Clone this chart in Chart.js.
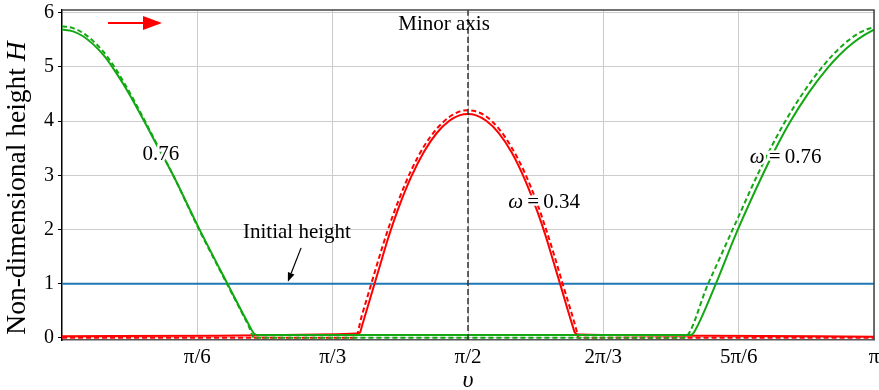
<!DOCTYPE html>
<html>
<head>
<meta charset="utf-8">
<script src="https://cdn.jsdelivr.net/npm/chart.js@4.4.0/dist/chart.umd.min.js"></script>
<style>
  html, body { margin: 0; padding: 0; background: #fff; }
</style>
</head>
<body>
<canvas id="hoehenChart" width="879" height="390"></canvas>
<script>
// Achsenbeschriftungen: x in Vielfachen von pi/6, y ganzzahlig
const tickSteps = [1, 2, 3, 4, 5, 6];
const tickLabels = ['π/6', 'π/3', 'π/2', '2π/3', '5π/6', 'π'];
const yTicks = [0, 1, 2, 3, 4, 5, 6];
const yMin = -0.04;
const yMax = 6.05;

// omega = 0.76, durchgezogene Linie (grün)
const green76X = [0, 0.04, 0.08, 0.12, 0.16, 0.20, 0.24, 0.28, 0.32, 0.36, 0.43, 0.53, 0.64, 0.72, 0.745, 0.76, 1.20, 1.80, 2.43, 2.44, 2.45, 2.47, 2.53, 2.615, 2.71, 2.765, 2.815, 2.89, 2.96, 3.01, 3.06, 3.105, 3.1416];
const green76Y = [5.69, 5.66, 5.57, 5.42, 5.22, 4.96, 4.66, 4.33, 3.98, 3.62, 3.00, 2.02, 1.00, 0.27, 0.07, 0.05, 0.05, 0.05, 0.05, 0.07, 0.14, 0.33, 1.00, 2.00, 3.00, 3.53, 3.97, 4.53, 4.97, 5.23, 5.44, 5.59, 5.69];

// omega = 0.76, gestrichelte Linie (grün)
const green76DashX = [0, 0.04, 0.08, 0.12, 0.16, 0.20, 0.24, 0.28, 0.32, 0.36, 0.43, 0.53, 0.64, 0.72, 0.745, 1.20, 1.80, 2.405, 2.50, 2.595, 2.69, 2.745, 2.795, 2.87, 2.94, 2.99, 3.04, 3.09, 3.1416];
const green76DashY = [5.75, 5.72, 5.63, 5.48, 5.28, 5.02, 4.71, 4.37, 4.01, 3.64, 3.00, 2.00, 0.98, 0.24, 0.00, 0.00, 0.00, 0.00, 1.00, 2.00, 3.00, 3.53, 3.97, 4.54, 4.99, 5.26, 5.48, 5.64, 5.74];

// omega = 0.34, durchgezogene Linie (rot)
const red34X = [0, 0.6, 1.0, 1.14, 1.153, 1.16, 1.20, 1.238, 1.26, 1.30, 1.35, 1.40, 1.45, 1.50, 1.54, 1.571, 1.60, 1.64, 1.69, 1.74, 1.79, 1.84, 1.87, 1.891, 1.93, 1.975, 1.985, 2.0, 2.5, 3.1416];
const red34Y = [0.03, 0.04, 0.06, 0.08, 0.10, 0.21, 0.85, 1.46, 1.81, 2.37, 2.96, 3.43, 3.78, 4.01, 4.11, 4.13, 4.11, 4.01, 3.78, 3.42, 2.93, 2.32, 1.90, 1.57, 0.95, 0.23, 0.09, 0.06, 0.04, 0.02];

// omega = 0.34, gestrichelte Linie (rot)
const red34DashX = [0, 1.0, 1.135, 1.16, 1.18, 1.223, 1.26, 1.30, 1.35, 1.40, 1.45, 1.50, 1.54, 1.571, 1.60, 1.64, 1.69, 1.74, 1.79, 1.84, 1.875, 1.904, 1.94, 1.99, 1.998, 2.5, 3.1416];
const red34DashY = [0.00, 0.00, 0.00, 0.41, 0.73, 1.42, 1.98, 2.51, 3.08, 3.53, 3.86, 4.08, 4.18, 4.20, 4.18, 4.09, 3.86, 3.51, 3.05, 2.46, 1.97, 1.53, 0.95, 0.15, 0.00, 0.00, 0.00];

// Anfangshöhe und kleine Halbachse
const initialX = [0, 3.1416];
const initialY = [1, 1];
const minorAxisX = [Math.PI / 2, Math.PI / 2];
const minorAxisY = [yMin, yMax];

const serif = "'Liberation Serif', 'Times New Roman', serif";

// Hilfsfunktion: x- und y-Arrays zu Punkten
function toPoints(xs, ys) {
    return xs.map((x, i) => ({ x: x, y: ys[i] }));
}

function lineSet(xs, ys, color, dash, width) {
    return {
        data: toPoints(xs, ys),
        showLine: true,
        borderColor: color,
        borderWidth: width,
        borderDash: dash,
        pointRadius: 0,
        fill: false,
        cubicInterpolationMode: 'monotone'
    };
}

// Text aus Teilen (kursiv / normal) zentriert zeichnen, optional mit weißem Rand
function drawParts(ctx, parts, cx, cy, size, halo) {
    ctx.textBaseline = 'middle';
    ctx.textAlign = 'left';
    let total = 0;
    parts.forEach(p => {
        ctx.font = (p.italic ? 'italic ' : '') + size + 'px ' + serif;
        p.w = ctx.measureText(p.text).width;
        total += p.w;
    });
    let x = cx - total / 2;
    parts.forEach(p => {
        ctx.font = (p.italic ? 'italic ' : '') + size + 'px ' + serif;
        if (halo) {
            ctx.strokeStyle = '#fff';
            ctx.lineWidth = 5;
            ctx.lineJoin = 'round';
            ctx.strokeText(p.text, x, cy);
        }
        ctx.fillStyle = '#000';
        ctx.fillText(p.text, x, cy);
        x += p.w;
    });
}

function drawArrow(ctx, x1, y1, x2, y2, color, width, headLen, headHalf) {
    const ang = Math.atan2(y2 - y1, x2 - x1);
    const bx = x2 - headLen * Math.cos(ang);
    const by = y2 - headLen * Math.sin(ang);
    ctx.strokeStyle = color;
    ctx.fillStyle = color;
    ctx.lineWidth = width;
    ctx.beginPath();
    ctx.moveTo(x1, y1);
    ctx.lineTo(bx, by);
    ctx.stroke();
    ctx.beginPath();
    ctx.moveTo(x2, y2);
    ctx.lineTo(bx + headHalf * Math.sin(ang), by - headHalf * Math.cos(ang));
    ctx.lineTo(bx - headHalf * Math.sin(ang), by + headHalf * Math.cos(ang));
    ctx.closePath();
    ctx.fill();
}

// Rahmen, Beschriftungen und Pfeile
const annotationPlugin = {
    id: 'annotations',
    afterDatasetsDraw(chart) {
        const { ctx, chartArea, scales: { x, y } } = chart;
        ctx.save();
        // Rahmen oben und rechts
        ctx.strokeStyle = '#444';
        ctx.lineWidth = 1.5;
        ctx.beginPath();
        ctx.moveTo(chartArea.left, chartArea.top);
        ctx.lineTo(chartArea.right, chartArea.top);
        ctx.lineTo(chartArea.right, chartArea.bottom);
        ctx.stroke();

        drawParts(ctx, [{ text: 'Minor axis' }], x.getPixelForValue(1.478), y.getPixelForValue(5.78), 21, false);
        drawParts(ctx, [{ text: '0.76' }], x.getPixelForValue(0.383), y.getPixelForValue(3.385), 21, true);
        drawParts(ctx, [{ text: 'ω', italic: true }, { text: '\u2009=\u20090.34' }], x.getPixelForValue(1.865), y.getPixelForValue(2.505), 21, true);
        drawParts(ctx, [{ text: 'ω', italic: true }, { text: '\u2009=\u20090.76' }], x.getPixelForValue(2.80), y.getPixelForValue(3.33), 21, true);
        drawParts(ctx, [{ text: 'Initial height' }], x.getPixelForValue(0.909), y.getPixelForValue(1.936), 21, false);

        drawArrow(ctx, x.getPixelForValue(0.925), y.getPixelForValue(1.66), x.getPixelForValue(0.874), y.getPixelForValue(1.037), '#000', 1.2, 9, 3.5);
        drawArrow(ctx, x.getPixelForValue(0.178), y.getPixelForValue(5.81), x.getPixelForValue(0.387), y.getPixelForValue(5.81), '#ff0000', 1.8, 19, 7);
        ctx.restore();
    },
    afterDraw(chart) {
        // y-Achsentitel mit kursivem H
        const { ctx } = chart;
        ctx.save();
        ctx.translate(18, 188);
        ctx.rotate(-Math.PI / 2);
        drawParts(ctx, [{ text: 'Non-dimensional height ' }, { text: 'H', italic: true }], 0, 0, 27.5, false);
        ctx.restore();
    }
};

const ctx = document.getElementById('hoehenChart').getContext('2d');

const data = {
    datasets: [
        lineSet(minorAxisX, minorAxisY, '#333', [6, 3], 1.5),
        lineSet(green76X, green76Y, '#13a813', [], 2),
        lineSet(green76DashX, green76DashY, '#13a813', [5, 3], 2),
        lineSet(red34X, red34Y, '#ff0000', [], 2),
        lineSet(red34DashX, red34DashY, '#ff0000', [5, 3], 2),
        lineSet(initialX, initialY, '#1f77b4', [], 2)
    ]
};

const config = {
    type: 'scatter',
    data: data,
    options: {
        responsive: false,
        animation: false,
        devicePixelRatio: 1,
        layout: { padding: { top: 10, right: 5, left: 0, bottom: 0 } },
        plugins: {
            legend: { display: false },
            tooltip: { enabled: false }
        },
        scales: {
            x: {
                type: 'linear',
                min: 0,
                max: Math.PI,
                afterBuildTicks: function(scale) {
                    scale.ticks = tickSteps.map(k => ({ value: k * Math.PI / 6 }));
                },
                afterFit: function(scale) {
                    scale.height = 50;
                    scale.paddingLeft = 0;
                    scale.paddingRight = 0;
                },
                ticks: {
                    autoSkip: false,
                    maxRotation: 0,
                    padding: 5,
                    color: '#000',
                    font: { family: serif, size: 21 },
                    callback: function(value, index) { return tickLabels[index]; }
                },
                grid: { color: '#cccccc', lineWidth: 1, drawTicks: false },
                border: { color: '#555', width: 1.5 },
                title: {
                    display: true,
                    text: 'υ',
                    color: '#000',
                    padding: { top: 0, bottom: -3 },
                    font: { family: serif, size: 24, style: 'italic', lineHeight: 1 }
                }
            },
            y: {
                min: yMin,
                max: yMax,
                afterBuildTicks: function(scale) {
                    scale.ticks = yTicks.map(v => ({ value: v }));
                },
                afterFit: function(scale) {
                    scale.width = 62;
                    scale.paddingTop = 0;
                    scale.paddingBottom = 0;
                },
                ticks: {
                    padding: 4,
                    color: '#000',
                    font: { family: serif, size: 20 },
                    callback: function(value) { return String(value); }
                },
                grid: { color: '#cccccc', lineWidth: 1, tickColor: '#000', tickLength: 4 },
                border: { color: '#000', width: 1.5 }
            }
        }
    },
    plugins: [annotationPlugin]
};

// Diagramm erstellen
const hoehenChart = new Chart(ctx, config);
</script>
</body>
</html>
